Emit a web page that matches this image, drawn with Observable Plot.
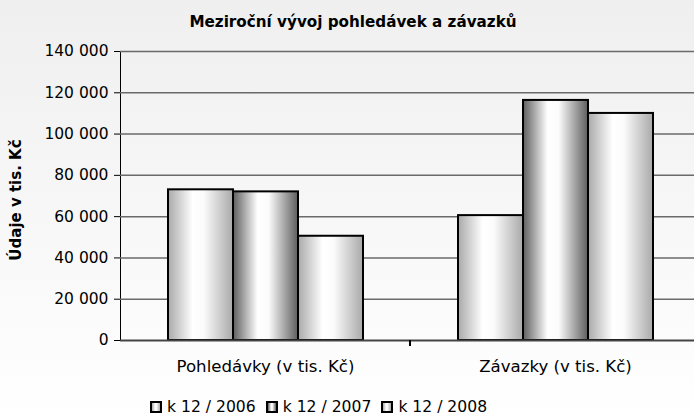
<!DOCTYPE html>
<html>
<head>
<meta charset="utf-8">
<script src="https://cdn.jsdelivr.net/npm/d3@7"></script>
<script src="https://cdn.jsdelivr.net/npm/@observablehq/plot@0.6"></script>
<style>
  html, body { margin: 0; padding: 0; }
  body {
    width: 694px; height: 419px; overflow: hidden; position: relative;
    background: linear-gradient(#efefef, #ffffff);
    font-family: "DejaVu Sans", sans-serif;
  }
  #title {
    position: absolute; left: 0; width: 706px; top: 13px; line-height: 18px;
    text-align: center; font-weight: bold; font-size: 15.2px; color: #000;
  }
  #ylabel {
    position: absolute; left: 16px; top: 200px; width: 200px; height: 20px; line-height: 20px;
    margin-left: -100px; margin-top: -10px; text-align: center;
    transform: rotate(-90deg); font-weight: bold; font-size: 15px; color: #000; white-space: nowrap;
  }
  #chart { position: absolute; left: 0; top: 40px; }
  #chart svg text { font-family: "DejaVu Sans", sans-serif !important; font-size: 15.5px !important; fill: #000; }
  #chart svg [aria-label^="fx-axis"] text { font-size: 16.6px !important; }
  #legend {
    position: absolute; left: 150px; top: 398px;
    display: flex; gap: 10px; font-size: 15.6px; line-height: 18px; color: #000; align-items: center;
  }
  #legend .item { display: flex; align-items: center; gap: 5px; }
  #legend .sw { width: 8px; height: 8px; border: 2px solid #000; }
</style>
</head>
<body>
<div id="title">Meziroční vývoj pohledávek a závazků</div>
<div id="ylabel"></div>
<div id="chart"></div>
<div id="legend"></div>
<script>
const categories = ["Pohledávky (v tis. Kč)", "Závazky (v tis. Kč)"];
const series = ["k 12 / 2006", "k 12 / 2007", "k 12 / 2008"];
const values2006 = [73000, 60500];
const values2007 = [72000, 116300];
const values2008 = [50500, 110000];
const yTicks = [0, 20000, 40000, 60000, 80000, 100000, 120000, 140000];
const yLabel = "Údaje v tis. Kč";

const seriesValues = [values2006, values2007, values2008];
const gradIds = ["g2006", "g2007", "g2008"];
const gradEdge = ["#a9a9a9", "#5e5e5e", "#a9a9a9"];

const data = [];
categories.forEach((c, ci) => {
  series.forEach((s, si) => data.push({cat: c, ser: s, v: seriesValues[si][ci], gid: gradIds[si]}));
});

const fmt = d => d3.format(",")(d).replace(/,/g, " ");

function defsMark() {
  const defs = d3.create("svg:defs");
  gradIds.forEach((id, i) => {
    const g = defs.append("linearGradient").attr("id", id).attr("x1", 0).attr("x2", 1).attr("y1", 0).attr("y2", 0);
    g.append("stop").attr("offset", "0%").attr("stop-color", gradEdge[i]);
    g.append("stop").attr("offset", "38%").attr("stop-color", "#ffffff");
    g.append("stop").attr("offset", "55%").attr("stop-color", "#fbfbfb");
    g.append("stop").attr("offset", "100%").attr("stop-color", gradEdge[i]);
  });
  return defs.node();
}

const chart = Plot.plot({
  width: 694,
  height: 345,
  marginLeft: 120,
  marginRight: 0,
  marginTop: 11,
  marginBottom: 45,
  style: { background: "transparent", fontFamily: "DejaVu Sans, sans-serif", fontSize: "15.5px", color: "#000" },
  fx: { domain: categories, range: [120, 700], padding: 0, label: null, tickSize: 0, tickPadding: 20 },
  x: { domain: series, paddingInner: 0, paddingOuter: 0.73, axis: null },
  y: { domain: [0, 140000], ticks: yTicks, tickFormat: fmt, tickSize: 6, tickPadding: 6, label: null, line: true, grid: false },
  facet: { data: data, x: "cat" },
  marks: [
    defsMark,
    Plot.ruleY(yTicks.slice(1), { stroke: "#6a6a6a", strokeWidth: 1.5 }),
    Plot.barY(data, { x: "ser", y: "v", fill: d => `url(#${d.gid})`, stroke: "#000", strokeWidth: 2 }),
    Plot.ruleY([0], { stroke: "#444", strokeWidth: 2 })
  ]
});

// boundary tick between categories on the x axis
const fxs = chart.scale("fx");
const yS = chart.scale("y");
const bx = fxs.apply(categories[1]);
d3.select(chart).append("line")
  .attr("x1", bx).attr("x2", bx)
  .attr("y1", yS.apply(0)).attr("y2", yS.apply(0) + 6)
  .attr("stroke", "#000").attr("stroke-width", 2);

document.getElementById("chart").appendChild(chart);
document.getElementById("ylabel").textContent = yLabel;

const legend = d3.select("#legend");
series.forEach((s, i) => {
  const it = legend.append("div").attr("class", "item");
  it.append("div").attr("class", "sw").style("background", `linear-gradient(to right, ${gradEdge[i]}, #fff 40%, #fbfbfb 55%, ${gradEdge[i]})`);
  it.append("span").text(s);
});
</script>
</body>
</html>
